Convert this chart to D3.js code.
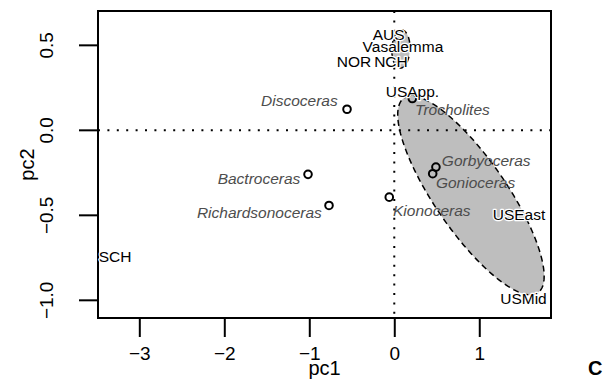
<!DOCTYPE html>
<html>
<head>
<meta charset="utf-8">
<script src="https://cdn.jsdelivr.net/npm/d3@7"></script>
<style>
  body { margin: 0; background: #fff; }
  text { font-family: "Liberation Sans", Arial, Helvetica, sans-serif; }
</style>
</head>
<body>
<div id="plot"></div>
<script>
// Taxa (open circles) with their label positions
var taxa = ["Discoceras", "Trocholites", "Bactroceras", "Richardsonoceras", "Kionoceras", "Gorbyoceras", "Gonioceras"];
var taxaPc1 = [-0.556, 0.212, -1.015, -0.768, -0.059, 0.49, 0.452];
var taxaPc2 = [0.124, 0.187, -0.259, -0.442, -0.393, -0.216, -0.255];
var taxaLabelX = [-0.665, 0.245, -1.105, -0.852, -0.015, 0.56, 0.49];
var taxaLabelY = [0.177, 0.124, -0.283, -0.483, -0.472, -0.177, -0.307];
var taxaAnchor = ["end", "start", "end", "end", "start", "start", "start"];

// Localities (text only)
var localities = ["AUS", "Vasalemma", "NOR", "NCH", "USApp.", "SCH", "USEast", "USMid"];
var locPc1 = [-0.066, 0.102, -0.474, -0.039, 0.214, -3.286, 1.468, 1.52];
var locPc2 = [0.566, 0.495, 0.407, 0.407, 0.23, -0.743, -0.495, -0.988];

// Ellipses: centre, major axis vector, minor axis vector (data units)
var ellipseCx = [0.902, 0.078];
var ellipseCy = [-0.383, 0.478];
var ellipseMajor = [[0.788, -0.5725], [0.012, 0.112]];
var ellipseMinor = [[-0.348, -0.120], [0.106, -0.004]];

var xTicks = [-3, -2, -1, 0, 1];
var yTicks = [-1.0, -0.5, 0.0, 0.5];

var margin = {top: 11, right: 52, bottom: 67, left: 98};
var width = 603 - margin.left - margin.right;
var height = 385 - margin.top - margin.bottom;

var svg = d3.select("#plot")
    .append("svg")
        .attr("width", 603)
        .attr("height", 385)
    .append("g")
        .attr("transform", "translate(" + margin.left + "," + margin.top + ")");

var x = d3.scaleLinear().domain([-3.486, 1.844]).range([0, width]);
var y = d3.scaleLinear().domain([-1.104, 0.702]).range([height, 0]);

// Ellipses
var ts = d3.range(0, 2 * Math.PI + 0.01, Math.PI / 90);
ellipseCx.forEach(function(cx, i) {
    var pts = ts.map(function(t) {
        return [cx + Math.cos(t) * ellipseMajor[i][0] + Math.sin(t) * ellipseMinor[i][0],
                ellipseCy[i] + Math.cos(t) * ellipseMajor[i][1] + Math.sin(t) * ellipseMinor[i][1]];
    });
    svg.append("path")
        .datum(pts)
        .attr("fill", "#bebebe")
        .attr("stroke", "#000")
        .attr("stroke-width", 1.5)
        .attr("stroke-dasharray", "6,4")
        .attr("d", d3.line().x(function(d) { return x(d[0]); }).y(function(d) { return y(d[1]); }).curve(d3.curveLinearClosed));
});

// Dotted zero lines
svg.append("line")
    .attr("x1", 0).attr("x2", width)
    .attr("y1", y(0)).attr("y2", y(0))
    .attr("stroke", "#000").attr("stroke-width", 2)
    .attr("stroke-dasharray", "2,7.4");
svg.append("line")
    .attr("x1", x(0)).attr("x2", x(0))
    .attr("y1", 0).attr("y2", height)
    .attr("stroke", "#000").attr("stroke-width", 2)
    .attr("stroke-dasharray", "2,7.4");

// Axes (ticks only, box drawn separately)
var xAxis = svg.append("g")
    .attr("transform", "translate(0," + height + ")")
    .call(d3.axisBottom(x).tickValues(xTicks).tickSize(19).tickPadding(10)
        .tickFormat(function(d) { return d < 0 ? "\u2212" + Math.abs(d) : d; }));
xAxis.select(".domain").remove();
xAxis.selectAll("line").attr("stroke-width", 2);
xAxis.selectAll("text").attr("font-size", "19px").attr("font-family", "Liberation Sans, Arial, sans-serif").attr("fill", "#000");

var yAxis = svg.append("g")
    .call(d3.axisLeft(y).tickValues(yTicks).tickSize(19).tickFormat(d3.format(".1f")));
yAxis.select(".domain").remove();
yAxis.selectAll("line").attr("stroke-width", 2);
yAxis.selectAll("text")
    .attr("font-size", "19px")
    .attr("font-family", "Liberation Sans, Arial, sans-serif")
    .attr("fill", "#000")
    .attr("text-anchor", "middle")
    .attr("x", null).attr("dy", null)
    .attr("transform", function(d) { return "translate(-45," + y(d) + ") rotate(-90)"; })
    .text(function(d) { return d3.format(".1f")(d).replace("-", "\u2212"); });
// tick groups are un-translated, so position lines and labels directly
yAxis.selectAll(".tick").attr("transform", null);
yAxis.selectAll(".tick line").attr("transform", function(d) { return "translate(0," + y(d) + ")"; });

// Box
svg.append("rect")
    .attr("width", width).attr("height", height)
    .attr("fill", "none").attr("stroke", "#000").attr("stroke-width", 2);

// Points
svg.append("g")
    .selectAll("circle")
    .data(taxa)
    .enter()
    .append("circle")
    .attr("cx", function(d, i) { return x(taxaPc1[i]); })
    .attr("cy", function(d, i) { return y(taxaPc2[i]); })
    .attr("r", 3.8)
    .attr("fill", "none")
    .attr("stroke", "#000")
    .attr("stroke-width", 2);

// Taxa labels
svg.append("g")
    .selectAll("text")
    .data(taxa)
    .enter()
    .append("text")
    .attr("x", function(d, i) { return x(taxaLabelX[i]); })
    .attr("y", function(d, i) { return y(taxaLabelY[i]); })
    .attr("dy", "0.35em")
    .attr("text-anchor", function(d, i) { return taxaAnchor[i]; })
    .style("font-size", "15.5px")
    .style("font-style", "italic")
    .attr("fill", "#4d4d4d")
    .text(function(d) { return d; });

// Locality labels with white halo
svg.append("g")
    .selectAll("text")
    .data(localities)
    .enter()
    .append("text")
    .attr("x", function(d, i) { return x(locPc1[i]); })
    .attr("y", function(d, i) { return y(locPc2[i]); })
    .attr("dy", "0.35em")
    .attr("text-anchor", "middle")
    .style("font-size", "15.5px")
    .attr("fill", "#000")
    .attr("stroke", "#fff")
    .attr("stroke-width", 2.5)
    .attr("paint-order", "stroke")
    .attr("stroke-linejoin", "round")
    .text(function(d) { return d; });

// Axis titles
svg.append("text")
    .attr("x", width / 2).attr("y", 364)
    .attr("text-anchor", "middle")
    .style("font-size", "20px")
    .text("pc1");
svg.append("text")
    .attr("transform", "rotate(-90)")
    .attr("x", -height / 2).attr("y", -64)
    .attr("text-anchor", "middle")
    .style("font-size", "20px")
    .text("pc2");

// Panel letter
svg.append("text")
    .attr("x", 588 - margin.left).attr("y", 375 - margin.top)
    .style("font-size", "20px")
    .style("font-weight", "bold")
    .text("C");
</script>
</body>
</html>
